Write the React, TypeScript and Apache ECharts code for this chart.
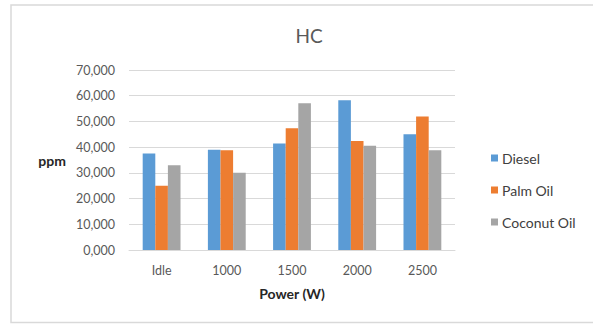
import React, { useEffect, useRef } from "react";
import * as echarts from "echarts";

const categories = ["Idle", "1000", "1500", "2000", "2500"];
const diesel = [37500, 39000, 41400, 58200, 45000];
const palmOil = [25000, 38800, 47300, 42400, 51900];
const coconutOil = [33000, 30000, 57100, 40500, 38800];
const yTickLabels = ["0,000", "10,000", "20,000", "30,000", "40,000", "50,000", "60,000", "70,000"];
const seriesNames = ["Diesel", "Palm Oil", "Coconut Oil"];
const colors = ["#5B9BD5", "#ED7D31", "#A5A5A5"];

const FONT = "Lato";

export default function App() {
  const ref = useRef<HTMLDivElement>(null);
  useEffect(() => {
    if (!ref.current) return;
    const chart = echarts.init(ref.current, undefined, { renderer: "svg" });
    const data = [diesel, palmOil, coconutOil];
    chart.setOption({
      animation: false,
      backgroundColor: "#ffffff",
      textStyle: { fontFamily: FONT },
      title: {
        text: "HC",
        left: 304,
        textAlign: "center",
        top: 21,
        textStyle: { fontFamily: FONT, fontSize: 19, fontWeight: "normal", color: "#595959" },
      },
      legend: {
        orient: "vertical",
        left: 486,
        top: 146,
        itemWidth: 7,
        itemHeight: 7,
        itemGap: 18,
        icon: "rect",
        data: seriesNames,
        textStyle: { fontFamily: FONT, fontSize: 14, color: "#404040", padding: [0, 0, 0, -1], lineHeight: 14 },
      },
      grid: { left: 129, right: 138, top: 70, bottom: 74, containLabel: false },
      xAxis: {
        type: "category",
        data: categories,
        name: "Power (W)",
        nameLocation: "middle",
        nameGap: 36,
        nameTextStyle: { fontFamily: FONT, fontSize: 14, fontWeight: "bold", color: "#262626" },
        axisLine: { show: true, lineStyle: { color: "#d9d9d9", width: 1 } },
        axisTick: { show: false },
        axisLabel: { fontFamily: FONT, fontSize: 12.5, color: "#595959", margin: 14 },
      },
      yAxis: {
        type: "value",
        min: 0,
        max: 70000,
        interval: 10000,
        name: "ppm",
        nameLocation: "middle",
        nameRotate: 0,
        nameGap: 63,
        nameTextStyle: { fontFamily: FONT, fontSize: 14, fontWeight: "bold", color: "#262626", align: "right" },
        axisLine: { show: false },
        axisTick: { show: false },
        splitLine: { lineStyle: { color: "#d9d9d9", width: 1 } },
        axisLabel: {
          fontFamily: FONT,
          fontSize: 12.5,
          color: "#595959",
          margin: 14,
          formatter: (v: number) => yTickLabels[Math.round(v / 10000)],
        },
      },
      graphic: [
        {
          type: "rect",
          shape: { x: 11, y: 5, width: 600, height: 317.5 },
          style: { fill: "none", stroke: "#d9d9d9", lineWidth: 1.5 },
          silent: true,
        },
      ],
      series: seriesNames.map((name, i) => ({
        name,
        type: "bar",
        data: data[i],
        barGap: "0%",
        barCategoryGap: "42%",
        itemStyle: { color: colors[i] },
      })),
    });
    return () => chart.dispose();
  }, []);
  return (
    <div
      ref={ref}
      style={{ position: "fixed", left: 0, top: 0, width: 593, height: 324, background: "#fff" }}
    />
  );
}
